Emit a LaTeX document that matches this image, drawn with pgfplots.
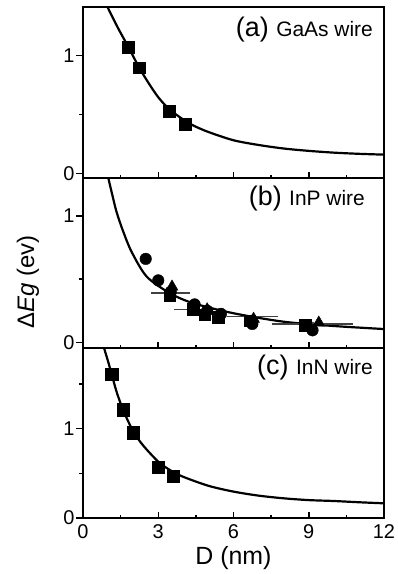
\documentclass[border=0pt]{standalone}
\usepackage{fontspec}
\setmainfont{Liberation Sans}
\usepackage{pgfplots}
\pgfplotsset{compat=1.18}

\pgfplotstableread{
x y
0.95 1.43
1.0 1.40
1.4 1.23
1.81 1.07
2.23 0.90
2.6 0.77
3.0 0.645
3.43 0.545
4.0 0.455
4.4 0.405
5.0 0.35
6.0 0.28
7.0 0.24
8.0 0.21
9.0 0.19
10.0 0.175
11.0 0.165
12.0 0.158
}\curveA

\pgfplotstableread{
x y
0.98 1.34
1.01 1.30
1.14 1.19
1.34 1.03
1.61 0.873
1.94 0.715
2.54 0.52
3.47 0.388
4.40 0.309
6.0 0.23
8.0 0.163
10.0 0.129
12.0 0.105
}\curveB

\pgfplotstableread{
x y
0.82 1.93
0.85 1.89
1.0 1.75
1.14 1.61
1.34 1.41
1.61 1.20
2.0 0.97
2.4 0.81
3.0 0.63
3.5 0.53
4.0 0.46
5.0 0.36
6.0 0.295
7.0 0.25
8.0 0.22
9.0 0.20
10.0 0.19
11.0 0.176
12.0 0.164
}\curveC

\pgfplotstableread{
x y
1.81 1.07
2.23 0.895
3.43 0.525
4.07 0.415
}\dataA

\pgfplotstableread{
x y
2.50 0.66
3.00 0.49
3.50 0.40
4.45 0.30
4.95 0.25
5.50 0.225
6.75 0.145
9.15 0.095
}\dataBcirc

\pgfplotstableread{
x y
3.45 0.37
4.40 0.26
4.85 0.22
5.40 0.20
6.65 0.17
8.85 0.135
}\dataBsq

\pgfplotstableread{
x y
3.55 0.44
4.95 0.26
6.80 0.185
9.40 0.155
}\dataBtri

\pgfplotstableread{
x y em ep
3.50 0.39 0.65 0.65
4.30 0.26 0.55 0.70
6.76 0.203 0.90 0.90
9.15 0.145 1.50 1.50
}\dataBerr

\pgfplotstableread{
x y
1.14 1.61
1.61 1.21
2.01 0.955
3.00 0.567
3.60 0.47
}\dataC

\pgfplotsset{
  panel/.style={
    width=301bp, scale only axis,
    xmin=0, xmax=12,
    xtick={0,3,6,9,12}, minor xtick={1.5,4.5,7.5,10.5},
    xtick pos=bottom, ytick pos=left,
    tick align=inside,
    major tick length=6bp, minor tick length=3bp,
    major y tick style={xshift=-7bp},
    minor y tick style={xshift=-4bp},
    tick style={line width=1.5bp, black},
    axis line style={line width=2.2bp},
    ytick={0,1},
    /pgf/number format/assume math mode=true,
    ticklabel style={font=\fontsize{20}{20}\selectfont},
    yticklabel style={xshift=-5bp},
    xticklabel style={yshift=-3bp},
  },
  curve/.style={black, line width=2.2bp, smooth, no marks},
  sq/.style={only marks, mark=square*, mark size=5.8bp, black},
}

\begin{document}
\begin{tikzpicture}
\useasboundingbox (-83bp,-56bp) rectangle (315bp,518bp);

% panel (c)
\begin{axis}[panel, at={(0bp,0bp)}, anchor=south west, height=170bp,
  ymin=0, ymax=1.9, minor ytick={0.5,1.5},
  xticklabels={0,3,6,9,12},
  xlabel={D (nm)},
  xlabel style={font=\fontsize{25}{25}\selectfont, at={(rel axis cs:0.5,0)}, anchor=center, yshift=-40bp},
]
\addplot[curve] table {\curveC};
\addplot[sq, mark size=6.2bp] table {\dataC};
\node[anchor=east, inner sep=0pt] at (rel axis cs:1,1) [xshift=-11bp, yshift=-20bp]
  {\fontsize{27}{27}\selectfont(c) \fontsize{21}{21}\selectfont InN wire};
\end{axis}

% panel (b)
\begin{axis}[panel, at={(0bp,170bp)}, anchor=south west, height=170bp,
  ymin=-0.045, ymax=1.30, minor ytick={0.5},
  xticklabels={},
  ylabel={Δ\textit{Eg} (ev)},
  ylabel style={font=\fontsize{24}{24}\selectfont, at={(rel axis cs:-0.183,0.39)}, anchor=center},
]
\addplot[curve] table {\curveB};
\addplot[only marks, mark=none, black!75,
  error bars/.cd, x dir=both, x explicit,
  error bar style={line width=1.3bp, black!75},
  error mark options={line width=1.3bp, black!75, mark size=3bp}]
  table[x=x, y=y, x error minus=em, x error plus=ep] {\dataBerr};
\addplot[only marks, mark=*, mark size=5.8bp, black] table {\dataBcirc};
\addplot[sq] table {\dataBsq};
\addplot[only marks, mark=triangle*, mark size=6.8bp, black] table {\dataBtri};
\node[anchor=east, inner sep=0pt] at (rel axis cs:1,1) [xshift=-19bp, yshift=-21bp]
  {\fontsize{27}{27}\selectfont(b) \fontsize{21}{21}\selectfont InP wire};
\end{axis}

% panel (a)
\begin{axis}[panel, at={(0bp,340bp)}, anchor=south west, height=171bp,
  ymin=-0.04, ymax=1.41, minor ytick={0.5},
  xticklabels={},
]
\addplot[curve] table {\curveA};
\addplot[sq] table {\dataA};
\node[anchor=east, inner sep=0pt] at (rel axis cs:1,1) [xshift=-11bp, yshift=-23bp]
  {\fontsize{27}{27}\selectfont(a) \fontsize{21}{21}\selectfont GaAs wire};
\end{axis}
\end{tikzpicture}
\end{document}
